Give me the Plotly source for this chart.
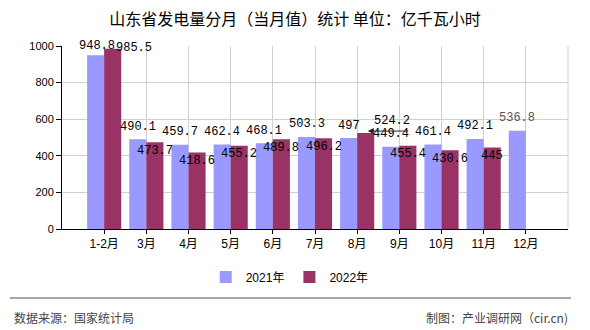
import plotly.graph_objects as go

categories = ["1-2月", "3月", "4月", "5月", "6月", "7月", "8月", "9月", "10月", "11月", "12月"]
values_2021 = [948.8, 490.1, 459.7, 462.4, 468.1, 503.3, 497, 449.4, 461.4, 492.1, 536.8]
values_2022 = [985.5, 473.7, 418.6, 455.2, 489.8, 496.2, 524.2, 455.4, 430.6, 445, None]
series_names = ["2021年", "2022年"]
title_text = "山东省发电量分月（当月值）统计 单位：亿千瓦小时"
source_text = "数据来源：国家统计局"
maker_text = "制图：产业调研网（cir.cn)"

BLUE = "#9999FF"
RED = "#993366"
LABEL_FONT = dict(family="Liberation Mono, DejaVu Sans Mono, monospace", size=12, color="black")
CJK = "Liberation Sans, Arial, Noto Sans CJK SC, sans-serif"

fig = go.Figure()
fig.add_trace(go.Bar(x=categories, y=values_2021, name=series_names[0],
                     marker=dict(color=BLUE, line=dict(width=0))))
fig.add_trace(go.Bar(x=categories, y=values_2022, name=series_names[1],
                     marker=dict(color=RED, line=dict(width=0))))

annotations = []
BAR_HALF = 8.5
# default label placement per series (pixel shifts relative to bar top centre)
for i, (c, v) in enumerate(zip(categories, values_2021)):
    xs, ys = -BAR_HALF, 12.5
    if i == 0:
        xs, ys = -BAR_HALF + 1.5, 9
    col = "#555555" if i == len(categories) - 1 else "black"
    annotations.append(dict(x=c, y=v, xref="x", yref="y", text=str(v), showarrow=False,
                            xshift=xs, yshift=ys, font=dict(LABEL_FONT, color=col),
                            xanchor="center", yanchor="middle"))
for i, (c, v) in enumerate(zip(categories, values_2022)):
    if v is None:
        continue
    xs, ys = BAR_HALF, -8.5
    if i == 0:
        xs, ys = BAR_HALF + 21, 1
    if i == 6:
        # leader line with arrow
        annotations.append(dict(x=c, y=v, xref="x", yref="y", text="", showarrow=True,
                                xshift=10.6, yshift=2, ax=42, ay=0, arrowhead=2,
                                arrowsize=1.2, arrowwidth=1, arrowcolor="#222222"))
        xs, ys = 35, 12
    annotations.append(dict(x=c, y=v, xref="x", yref="y", text=str(v), showarrow=False,
                            xshift=xs, yshift=ys, font=LABEL_FONT,
                            xanchor="center", yanchor="middle"))

# footer texts
annotations.append(dict(x=-0.099, y=-0.481, xref="paper", yref="paper", text=source_text,
                        showarrow=False, xanchor="left", yanchor="middle",
                        font=dict(family="Noto Sans CJK SC", size=12, color="#444444")))
annotations.append(dict(x=1.004, y=-0.481, xref="paper", yref="paper", text=maker_text,
                        showarrow=False, xanchor="right", yanchor="middle",
                        font=dict(family="Noto Sans CJK SC", size=12, color="#444444")))

shapes = [
    dict(type="line", xref="paper", yref="paper", x0=-0.103, x1=1.006, y0=-0.377, y1=-0.377,
         line=dict(color="#888888", width=1.5)),
    dict(type="line", xref="paper", yref="paper", x0=1, x1=1, y0=0, y1=1,
         line=dict(color="#d0d0d0", width=1)),
]

fig.update_layout(
    width=590, height=330,
    margin=dict(l=62, r=22, t=46, b=101),
    paper_bgcolor="white", plot_bgcolor="white",
    barmode="group", bargap=0.19, bargroupgap=0,
    title=dict(text=title_text, x=0.5, xanchor="center", y=1 - 19 / 330, yanchor="middle",
               font=dict(family="Noto Sans CJK SC", size=16, color="black")),
    xaxis=dict(type="category", range=[-1, 11], showgrid=True, gridcolor="#d0d0d0", gridwidth=1,
               showline=True, linecolor="black", linewidth=1, ticks="outside", ticklen=4,
               tickcolor="black", tickfont=dict(family=CJK, size=12, color="black"),
               zeroline=False, fixedrange=True),
    yaxis=dict(range=[0, 1000], dtick=200, showgrid=True, gridcolor="#d0d0d0", gridwidth=1,
               showline=True, linecolor="black", linewidth=1, ticks="outside", ticklen=5,
               tickcolor="black", tickfont=dict(family=CJK, size=11, color="black"),
               zeroline=False, fixedrange=True),
    legend=dict(orientation="h", x=0.45, xanchor="center", y=-0.262, yanchor="middle",
                font=dict(family=CJK, size=12, color="black"), itemwidth=30,
                bgcolor="rgba(0,0,0,0)"),
    annotations=annotations,
    shapes=shapes,
    showlegend=True,
)

fig.write_html("out.html", config=dict(displayModeBar=False))
